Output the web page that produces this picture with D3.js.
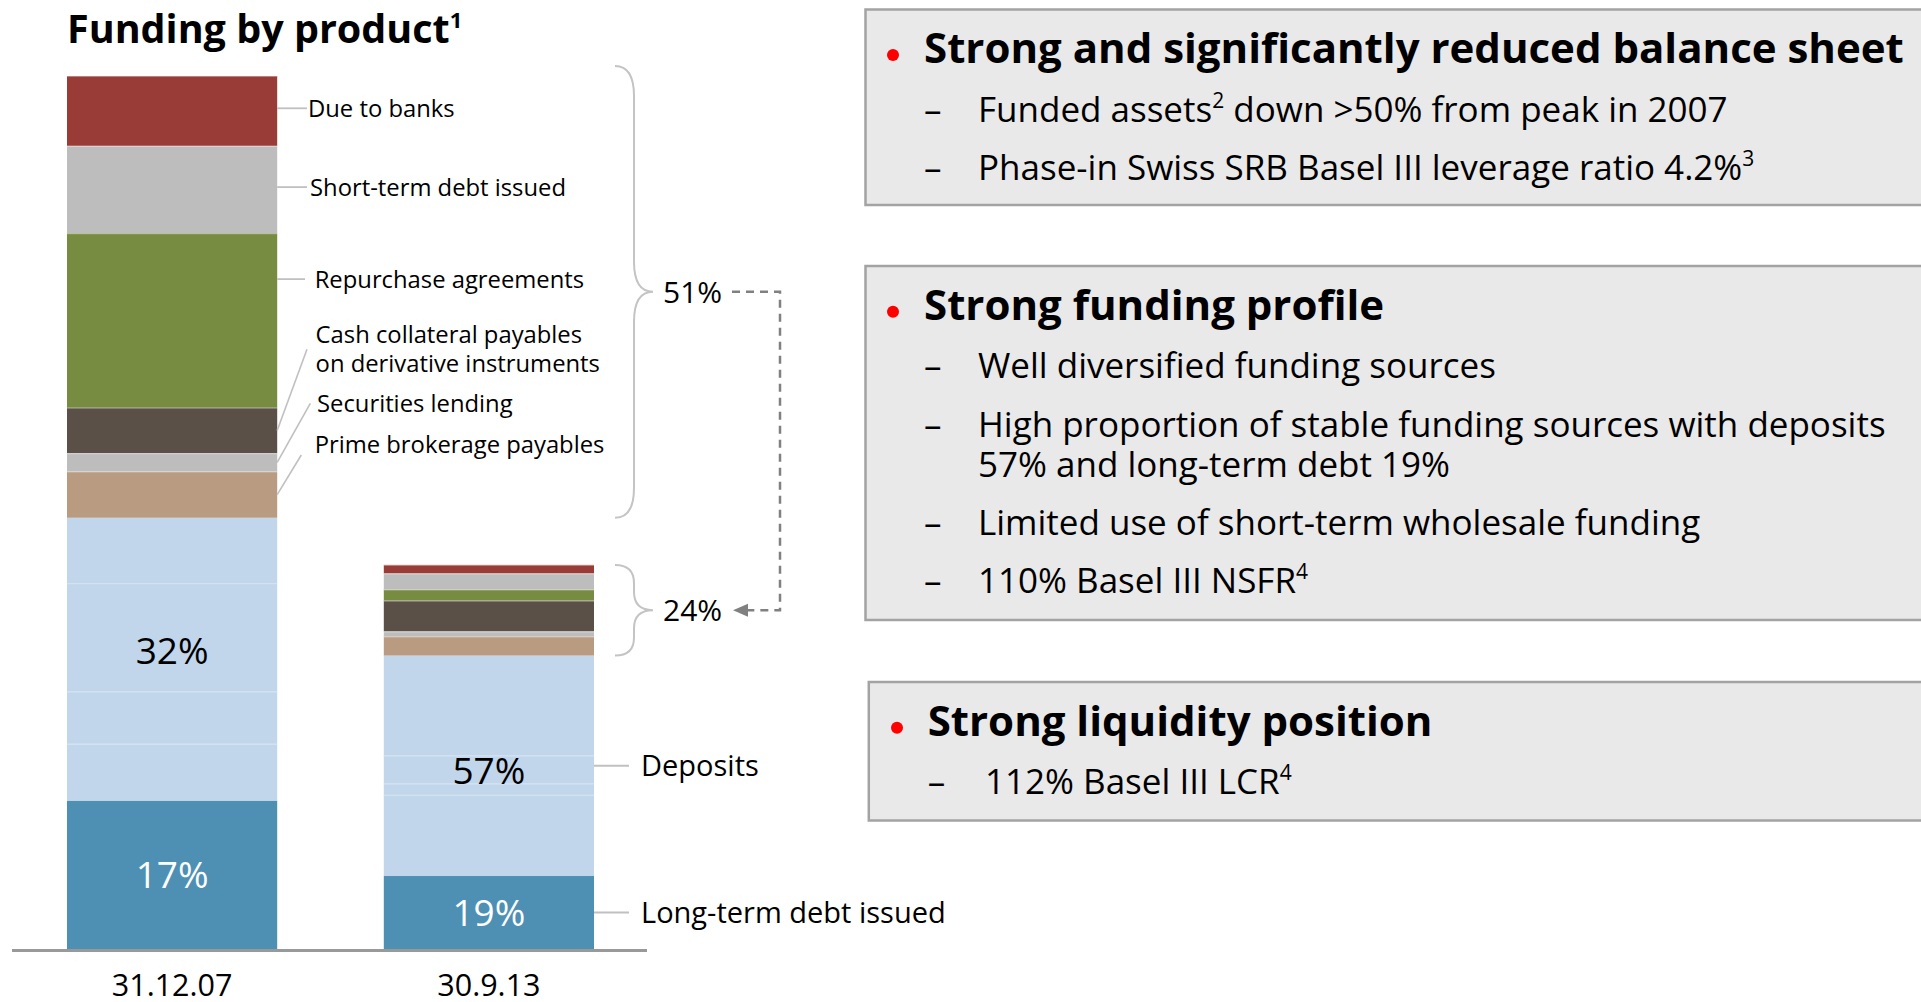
<!DOCTYPE html>
<html>
<head>
<meta charset="utf-8">
<script src="https://cdn.jsdelivr.net/npm/d3@7"></script>
<style>
  html, body { margin: 0; padding: 0; background: #fff; }
  svg { display: block; }
  text { font-family: "Open Sans", "Noto Sans", sans-serif; fill: #000; }
</style>
</head>
<body>
<svg id="chart" width="1921" height="1002"></svg>
<script>
// ---- Data: funding by product, share of each period's total funding (%) ----
const periods = ["31.12.07", "30.9.13"];
const fundingIndex = [100, 44];            // total funding, 31.12.07 = 100
const products = [
  "Due to banks", "Short-term debt issued", "Repurchase agreements",
  "Cash collateral payables on derivative instruments", "Securities lending",
  "Prime brokerage payables", "Deposits", "Long-term debt issued"
];
const shares0712 = [8.0, 10.0, 20.0, 5.2, 2.1, 5.3, 32.4, 17.0];
const shares0913 = [2.2, 4.2, 2.9, 8.0, 1.3, 5.0, 57.4, 19.0];
// deposit sub-segments, top to bottom (they add up to the Deposits share)
const depositParts0712 = [7.5, 12.4, 6.0, 6.5];
const depositParts0913 = [26.0, 7.3, 3.0, 21.1];
const wholesaleProducts = products.slice(0, 6);

// ---- Styles ----
const productColors = ["#993c37", "#bdbdbd", "#788c41", "#5a5047", "#bdbdbd", "#b89b80", "#c1d6ea", "#4d90b4"];
const colorOf = name => productColors[products.indexOf(name.split("#")[0])];

const svg = d3.select("#chart");

// ---- Stack table ----
const sharesByPeriod = [shares0712, shares0913];
const partsByPeriod = [depositParts0712, depositParts0913];
const rows = periods.map((p, i) => {
  const row = { period: p };
  products.forEach((name, j) => {
    if (name === "Deposits") {
      partsByPeriod[i].forEach((v, k) => { row["Deposits#" + k] = v * fundingIndex[i] / 100; });
    } else {
      row[name] = sharesByPeriod[i][j] * fundingIndex[i] / 100;
    }
  });
  return row;
});
const keys = [];
products.slice().reverse().forEach(name => {
  if (name === "Deposits") {
    for (let k = depositParts0712.length - 1; k >= 0; k--) keys.push("Deposits#" + k);
  } else keys.push(name);
});
const series = d3.stack().keys(keys)(rows);

// ---- Scales ----
const y = d3.scaleLinear().domain([0, 100]).range([949, 76]);
const x = d3.scaleBand().domain(periods).range([67, 594]).paddingInner(0.3365).paddingOuter(0);
const bw = x.bandwidth();

// ---- Bars ----
const gBars = svg.append("g");
series.forEach(s => {
  gBars.selectAll(null).data(s).enter().append("rect")
    .attr("x", d => x(d.data.period))
    .attr("y", d => y(d[1]))
    .attr("width", bw)
    .attr("height", d => y(d[0]) - y(d[1]))
    .attr("fill", colorOf(s.key));
});
// thin light seams between segments
series.forEach(s => {
  const isDepositInner = s.key.startsWith("Deposits#") && s.key !== "Deposits#0";
  const isWholesale = wholesaleProducts.includes(s.key);
  if (!isDepositInner && !isWholesale) return;
  gBars.selectAll(null).data(s).enter().append("line")
    .attr("x1", d => x(d.data.period))
    .attr("x2", d => x(d.data.period) + bw)
    .attr("y1", d => y(d[1]) + 0.5)
    .attr("y2", d => y(d[1]) + 0.5)
    .attr("stroke", isDepositInner ? "#d3e2f0" : "rgba(255,255,255,0.35)")
    .attr("stroke-width", 1.2);
});

// segment extents helper
const seg = (key, i) => series.find(s => s.key === key)[i];
const depositTop = i => y(seg("Deposits#0", i)[1]);
const depositBottom = i => y(seg("Deposits#" + (depositParts0712.length - 1), i)[0]);

// ---- Baseline and category axis ----
svg.append("line")
  .attr("x1", 12).attr("x2", 647).attr("y1", 950.5).attr("y2", 950.5)
  .attr("stroke", "#999").attr("stroke-width", 3);
const gAxis = svg.append("g").attr("transform", "translate(0,950)")
  .call(d3.axisBottom(x).tickSize(0).tickPadding(24));
gAxis.select(".domain").remove();
gAxis.selectAll("text").attr("font-size", 30.5).attr("font-family", "Open Sans").attr("fill", "#000");

// ---- Values inside bars ----
const depositLabelShift = [-8, 5];
periods.forEach((p, i) => {
  const cx = x(p) + bw / 2;
  const depMid = (depositTop(i) + depositBottom(i)) / 2 + depositLabelShift[i];
  svg.append("text").attr("x", cx).attr("y", depMid).attr("dy", "0.36em")
    .attr("text-anchor", "middle").attr("font-size", 37)
    .text(Math.round(sharesByPeriod[i][6]) + "%");
  const ltd = seg("Long-term debt issued", i);
  svg.append("text").attr("x", cx).attr("y", (y(ltd[0]) + y(ltd[1])) / 2).attr("dy", "0.36em")
    .attr("text-anchor", "middle").attr("font-size", 37).style("fill", "#fff")
    .text(Math.round(sharesByPeriod[i][7]) + "%");
});

// ---- Callouts for the 31.12.07 bar ----
const leaderColor = "#c0c0c0";
const barRight0 = x(periods[0]) + bw;
const calloutLayout = [
  { key: "Due to banks", lines: ["Due to banks"], tx: 308, ty: 116.7, lx: 307 },
  { key: "Short-term debt issued", lines: ["Short-term debt issued"], tx: 310, ty: 195.5, lx: 307 },
  { key: "Repurchase agreements", lines: ["Repurchase agreements"], tx: 314.7, ty: 287.5, lx: 305 },
  { key: "Cash collateral payables on derivative instruments",
    lines: ["Cash collateral payables", "on derivative instruments"], tx: 315.6, ty: 343.3, ex: 307, ey: 349.3 },
  { key: "Securities lending", lines: ["Securities lending"], tx: 317, ty: 412.3, ex: 310.3, ey: 403.3 },
  { key: "Prime brokerage payables", lines: ["Prime brokerage payables"], tx: 314.7, ty: 453.3, ex: 301.3, ey: 455 }
];
calloutLayout.forEach(c => {
  if (c.ex === undefined) {
    svg.append("line").attr("x1", barRight0).attr("x2", c.lx)
      .attr("y1", c.ty - 8.4).attr("y2", c.ty - 8.4)
      .attr("stroke", leaderColor).attr("stroke-width", 1.8);
  } else {
    const s = seg(c.key, 0);
    svg.append("line").attr("x1", barRight0).attr("y1", (y(s[0]) + y(s[1])) / 2)
      .attr("x2", c.ex).attr("y2", c.ey)
      .attr("stroke", leaderColor).attr("stroke-width", 1.6);
  }
  const t = svg.append("text").attr("x", c.tx).attr("y", c.ty).attr("font-size", 23.8);
  c.lines.forEach((ln, k) => t.append("tspan").attr("x", c.tx).attr("dy", k === 0 ? 0 : 28.4).text(ln));
});

// ---- Callouts for the 30.9.13 bar ----
const barRight1 = x(periods[1]) + bw;
[["Deposits", (depositTop(1) + depositBottom(1)) / 2],
 ["Long-term debt issued", (y(seg("Long-term debt issued", 1)[0]) + y(seg("Long-term debt issued", 1)[1])) / 2]]
  .forEach(([name, cy]) => {
    svg.append("line").attr("x1", barRight1).attr("x2", 629).attr("y1", cy).attr("y2", cy)
      .attr("stroke", leaderColor).attr("stroke-width", 2.2);
    svg.append("text").attr("x", 641).attr("y", cy).attr("dy", "0.35em").attr("font-size", 29).text(name);
  });

// ---- Braces around the wholesale funding group ----
const bracePad = [10, 0];
const braceTips = [];
periods.forEach((p, i) => {
  const top = y(d3.sum(sharesByPeriod[i]) * fundingIndex[i] / 100) - bracePad[i];
  const bottom = depositTop(i);
  const mid = (top + bottom) / 2;
  const x0 = 615, xs = 634, xt = 653;
  const r = Math.min(30, (bottom - top) / 5);
  const path = d3.path();
  path.moveTo(x0, top);
  path.quadraticCurveTo(xs, top, xs, top + r);
  path.lineTo(xs, mid - r);
  path.quadraticCurveTo(xs, mid, xt, mid);
  path.quadraticCurveTo(xs, mid, xs, mid + r);
  path.lineTo(xs, bottom - r);
  path.quadraticCurveTo(xs, bottom, x0, bottom);
  svg.append("path").attr("d", path.toString()).attr("fill", "none")
    .attr("stroke", "#c4c4c4").attr("stroke-width", 2);
  const groupShare = d3.sum(sharesByPeriod[i].slice(0, wholesaleProducts.length));
  svg.append("text").attr("x", 663).attr("y", mid).attr("dy", "0.36em").attr("font-size", 30)
    .text(Math.round(groupShare) + "%");
  braceTips.push(mid);
});

// dashed connector from the 2007 share to the 2013 share
const connector = d3.path();
connector.moveTo(732, braceTips[0]);
connector.lineTo(780, braceTips[0]);
connector.lineTo(780, braceTips[1]);
connector.lineTo(748, braceTips[1]);
svg.append("path").attr("d", connector.toString()).attr("fill", "none")
  .attr("stroke", "#808080").attr("stroke-width", 2.5).attr("stroke-dasharray", "8,6");
svg.append("path")
  .attr("d", `M733,${braceTips[1]} L748,${braceTips[1] - 6.5} L748,${braceTips[1] + 6.5} Z`)
  .attr("fill", "#808080");

// ---- Title ----
const title = svg.append("text").attr("x", 67).attr("y", 42.7).attr("font-size", 39.5).attr("font-weight", 700);
title.append("tspan").text("Funding by product");
title.append("tspan").attr("font-size", 22).attr("dy", -15).text("1");

// ---- Key-point panels ----
const panels = [
  { title: "Strong and significantly reduced balance sheet",
    items: [
      [[["Funded assets"], ["2", true], [" down >50% from peak in 2007"]]],
      [[["Phase-in Swiss SRB Basel III leverage ratio 4.2%"], ["3", true]]]
    ] },
  { title: "Strong funding profile",
    items: [
      [[["Well diversified funding sources"]]],
      [[["High proportion of stable funding sources with deposits"]],
       [[`${Math.round(shares0913[6])}% and long-term debt ${Math.round(shares0913[7])}%`]]],
      [[["Limited use of short-term wholesale funding"]]],
      [[["110% Basel III NSFR"], ["4", true]]]
    ] },
  { title: "Strong liquidity position",
    items: [
      [[["112% Basel III LCR"], ["4", true]]]
    ] }
];
const panelLayout = [
  { x: 865.5, y: 9.5, h: 195.5, bulletX: 893, titleX: 924, titleY: 63.3, dashX: 924, textX: 978,
    lineYs: [[121.7], [180]] },
  { x: 865.5, y: 266, h: 354, bulletX: 893, titleX: 924, titleY: 320, dashX: 924, textX: 978,
    lineYs: [[378.3], [436.7, 476.7], [535], [593.3]] },
  { x: 868.8, y: 682, h: 138.5, bulletX: 897, titleX: 927.7, titleY: 736, dashX: 927.7, textX: 985,
    lineYs: [[794]] }
];
const itemSize = 35, headSize = 42, supSize = 21, supRise = 14;
panels.forEach((pn, i) => {
  const L = panelLayout[i];
  const g = svg.append("g");
  g.append("rect").attr("x", L.x).attr("y", L.y).attr("width", 1921 - L.x + 10).attr("height", L.h)
    .attr("fill", "#e9e9e9").attr("stroke", "#a3a3a3").attr("stroke-width", 2.5);
  g.append("circle").attr("cx", L.bulletX).attr("cy", L.titleY - 8.3).attr("r", 6).attr("fill", "#ff0000");
  g.append("text").attr("x", L.titleX).attr("y", L.titleY).attr("font-size", headSize)
    .attr("font-weight", 700).text(pn.title);
  pn.items.forEach((item, j) => {
    g.append("text").attr("x", L.dashX).attr("y", L.lineYs[j][0]).attr("font-size", itemSize).text("\u2013");
    item.forEach((line, k) => {
      const t = g.append("text").attr("x", L.textX).attr("y", L.lineYs[j][k]).attr("font-size", itemSize);
      let raised = false;
      line.forEach(([str, sup]) => {
        if (sup) {
          t.append("tspan").attr("font-size", supSize).attr("dy", -supRise).text(str);
          raised = true;
        } else {
          t.append("tspan").attr("dy", raised ? supRise : 0).text(str);
          raised = false;
        }
      });
    });
  });
});
</script>
</body>
</html>
